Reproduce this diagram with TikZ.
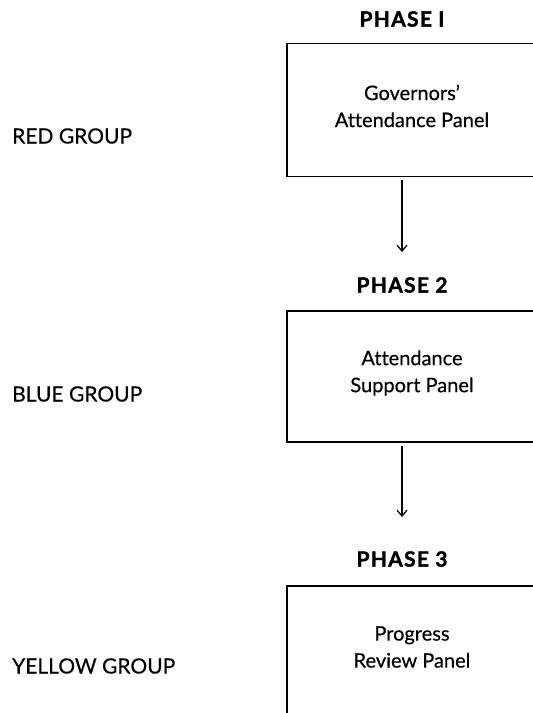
\documentclass[tikz,border=0pt]{standalone}
\usepackage{fontspec}
\setmainfont[Ligatures=NoCommon,FakeBold=0.4]{Lato}
\newfontfamily\phasefont[LetterSpace=6,FakeBold=1.5]{Lato Bold}
\usetikzlibrary{arrows.meta}
\begin{document}
\begin{tikzpicture}[x=1pt,y=-1pt,
  phase/.style={font=\fontsize{21}{24}\phasefont, inner sep=0pt},
  group/.style={font=\fontsize{21}{24}\selectfont, inner sep=0pt, anchor=west},
  panel/.style={draw=black, line width=1.6pt, inner sep=0pt, minimum width=254pt},
  paneltext/.style={font=\fontsize{20}{27}\selectfont, align=center, inner sep=0pt},
  arr/.style={line width=1.2pt, -{Straight Barb[length=6pt,width=10pt,line width=1.2pt]}}]
\useasboundingbox (0,0) rectangle (533,713);
\clip (0,0) rectangle (533,713);

% phase headings
\node[phase] (ph1) at (402,19) {PHASE I};
\node[phase] (ph2) at (402,285) {PHASE 2};
\node[phase] (ph3) at (402,559) {PHASE 3};

% panels (boxes run past the right edge)
\node[panel, minimum height=133pt] (box1) at (414,110) {};
\node[panel, minimum height=131pt] (box2) at (414,376.5) {};
\node[panel, minimum height=150pt] (box3) at (414,661) {};

\node[paneltext] (t1) at (412,106) {Governors'\\Attendance Panel};
\node[paneltext] (t2) at (412,373) {Attendance\\Support Panel};
\node[paneltext] (t3) at (412,647) {Progress\\Review Panel};

% group labels
\node[group] (g1) at (12,136) {RED GROUP};
\node[group] (g2) at (12,394) {BLUE GROUP};
\node[group] (g3) at (12,666) {YELLOW GROUP};

% connectors between phases
\draw[arr, shorten <=3pt, shorten >=25pt] (box1.south -| ph2.north) -- (ph2.north);
\draw[arr, shorten <=3pt, shorten >=34pt] (box2.south -| ph3.north) -- (ph3.north);
\end{tikzpicture}
\end{document}
